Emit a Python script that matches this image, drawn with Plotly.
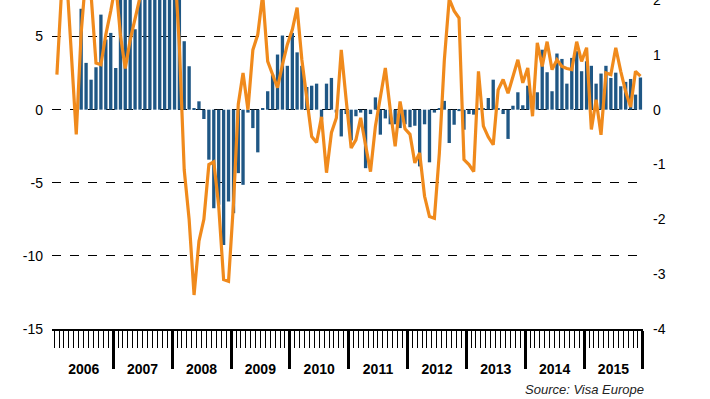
import plotly.graph_objects as go

# ---- data -------------------------------------------------------------
years = ["2006", "2007", "2008", "2009", "2010", "2011", "2012", "2013", "2014", "2015"]
months = [f"{y}-{m:02d}-01" for y in years for m in range(1, 13)]

# bars, left axis (monthly, Jan 2006 .. Dec 2015)
bar_values = [
    # 2006
    None, None, None, None, None, 6.9, 3.2, 2.05, 2.9, 6.5, 4.8, 5.25,
    # 2007
    2.85, 8.5, 8.0, 8.2, 5.5, 8.5, 9.0, 9.5, 10.0, 9.5, 9.0, 9.5,
    # 2008
    8.5, 8.0, 4.68, 2.97, 0.05, 0.57, -0.64, -3.42, -6.74, -6.5, -9.25, -6.28,
    # 2009
    -7.08, -4.34, -5.14, -0.2, -1.26, -2.92, 0.05, 1.26, 2.4, 3.77, 5.07, 3.0,
    # 2010
    5.25, 3.92, 3.0, 1.55, 1.64, 1.78, -0.68, 1.78, 2.17, -0.2, -1.83, -0.3,
    # 2011
    -2.1, -0.45, -0.2, -4.0, -0.3, 0.84, -1.71, -0.6, -1.0, -1.0, -1.26, -1.0,
    # 2012
    -1.2, -1.1, -3.88, -1.0, -3.6, -0.2, 0.05, 0.6, -2.28, -1.03, -0.1, -1.37,
    # 2013
    -0.3, -0.34, 0.05, 0.05, 0.8, 2.05, 0.05, -0.3, -2.0, 0.27, 1.19, 0.3,
    # 2014
    1.64, 0.9, 1.19, 4.1, 2.56, 1.26, 3.84, 3.47, 1.78, 3.54, 4.0, 2.63,
    # 2015
    3.31, 3.0, 1.78, 2.47, 3.0, 2.17, 2.53, 1.6, 1.9, 2.1, 1.03, 2.2,
]

# orange line, right axis
line_values = [
    # 2006
    0.64, 2.2, 2.5, 1.0, -0.45, 1.4, 2.5, 2.1, 0.85, 0.82, 1.37, 1.8,
    # 2007
    2.3, 1.35, 0.75, 1.27, 1.64, 2.05, 2.6, 2.9, 3.1, 2.8, 2.7, 3.0,
    # 2008
    2.7, 1.15, -1.1, -2.0, -3.38, -2.4, -2.0, -1.0, -0.95, -1.76, -3.1, -3.13,
    # 2009
    -1.7, 0.1, 0.67, 0.0, 1.09, 1.37, 2.1, 0.88, 0.64, 0.4, 0.82, 1.19,
    # 2010
    1.46, 1.86, 0.91, 0.18, -0.49, -0.6, -0.13, -1.15, -0.42, -0.15, 1.09, 0.18,
    # 2011
    -0.7, -0.55, -0.15, -0.65, -1.13, -0.3, 0.2, 0.76, 0.0, -0.67, 0.15, -0.35,
    # 2012
    -0.45, -0.97, -0.79, -1.58, -1.95, -1.98, -0.8, 0.9, 2.02, 1.8, 1.67, -0.91,
    # 2013
    -1.0, -1.13, 0.7, -0.3, -0.5, -0.64, 0.36, 0.55, 0.3, 0.6, 0.91, 0.49,
    # 2014
    0.76, -0.12, 1.22, 0.79, 1.24, 0.73, 0.91, 0.79, 0.75, 0.73, 1.24, 0.88,
    # 2015
    1.13, -0.36, 0.18, -0.46, 0.67, 0.64, 1.13, 0.7, 0.33, 0.05, 0.7, 0.61,
]

left_ticks = [-15, -10, -5, 0, 5]
left_labels = ["-15", "-10", "-5", "0", "5"]
right_ticks = [-4, -3, -2, -1, 0, 1, 2]
right_labels = ["-4", "-3", "-2", "-1", "0", "1", "2"]

year_bounds = [f"{int(y) + 1}-01-01" for y in years]
year_mids = [f"{y}-07-02" for y in years]
x_range = ["2005-12-17", "2016-01-01 12:00"]

FONT = "Liberation Sans, Arial, sans-serif"

fig = go.Figure()
fig.add_trace(go.Bar(
    x=months, y=bar_values, xperiod="M1", xperiodalignment="middle",
    marker=dict(color="#1F5785", line=dict(width=0)), yaxis="y",
    hoverinfo="skip",
))
fig.add_trace(go.Scatter(
    x=months, y=line_values, xperiod="M1", xperiodalignment="middle",
    mode="lines", line=dict(color="#F08A1C", width=3.2), yaxis="y2",
    hoverinfo="skip",
))
# empty carrier trace so that the year-label axis is drawn
fig.add_trace(go.Scatter(
    x=months, y=[None] * len(months), xaxis="x2", yaxis="y",
    mode="lines", hoverinfo="skip", showlegend=False,
))

fig.update_layout(
    width=710, height=399,
    margin=dict(l=52, r=67, t=0, b=70, autoexpand=False),
    plot_bgcolor="white", paper_bgcolor="white",
    showlegend=False, bargap=0.3,
    font=dict(family=FONT, color="black", size=14),
    xaxis=dict(
        type="date", range=x_range, automargin=False,
        tickmode="array", tickvals=year_bounds, ticktext=[""] * len(year_bounds),
        ticks="outside", ticklen=38, tickwidth=3, tickcolor="black",
        showline=True, linecolor="black", linewidth=1.5,
        showgrid=False, zeroline=False,
        minor=dict(ticks="outside", ticklen=17, tickwidth=1.2, tickcolor="black",
                   dtick="M1", tick0="2006-01-01", showgrid=False),
    ),
    xaxis2=dict(
        type="date", range=x_range, overlaying="x", anchor="y", side="bottom",
        automargin=False,
        tickmode="array", tickvals=year_mids, ticktext=years,
        ticks="", showgrid=False, showline=False, zeroline=False,
        tickfont=dict(size=14, family=FONT, weight="bold", color="black"),
        ticklabelstandoff=30,
    ),
    yaxis=dict(
        range=[-15, 7.5], tickmode="array", tickvals=left_ticks, ticktext=left_labels,
        automargin=False,
        showgrid=True, gridcolor="black", griddash="dash", gridwidth=1,
        zeroline=False, ticks="", ticklabelstandoff=8,
        tickfont=dict(size=14),
    ),
    yaxis2=dict(
        range=[-4, 2], overlaying="y", side="right", anchor="x",
        automargin=False,
        tickmode="array", tickvals=right_ticks, ticktext=right_labels,
        showgrid=False, zeroline=False, ticks="", ticklabelstandoff=9,
        ticklabeloverflow="allow",
        tickfont=dict(size=14),
    ),
    annotations=[dict(
        text="Source: Visa Europe", xref="paper", yref="paper",
        x=1.0, y=-0.185, xanchor="right", yanchor="middle", showarrow=False,
        xshift=3,
        font=dict(size=13, style="italic", color="#222222", family=FONT),
    )],
)

fig.write_html(
    "out.html",
    config={"displayModeBar": False},
    post_script="document.body.style.margin='0';",
)
